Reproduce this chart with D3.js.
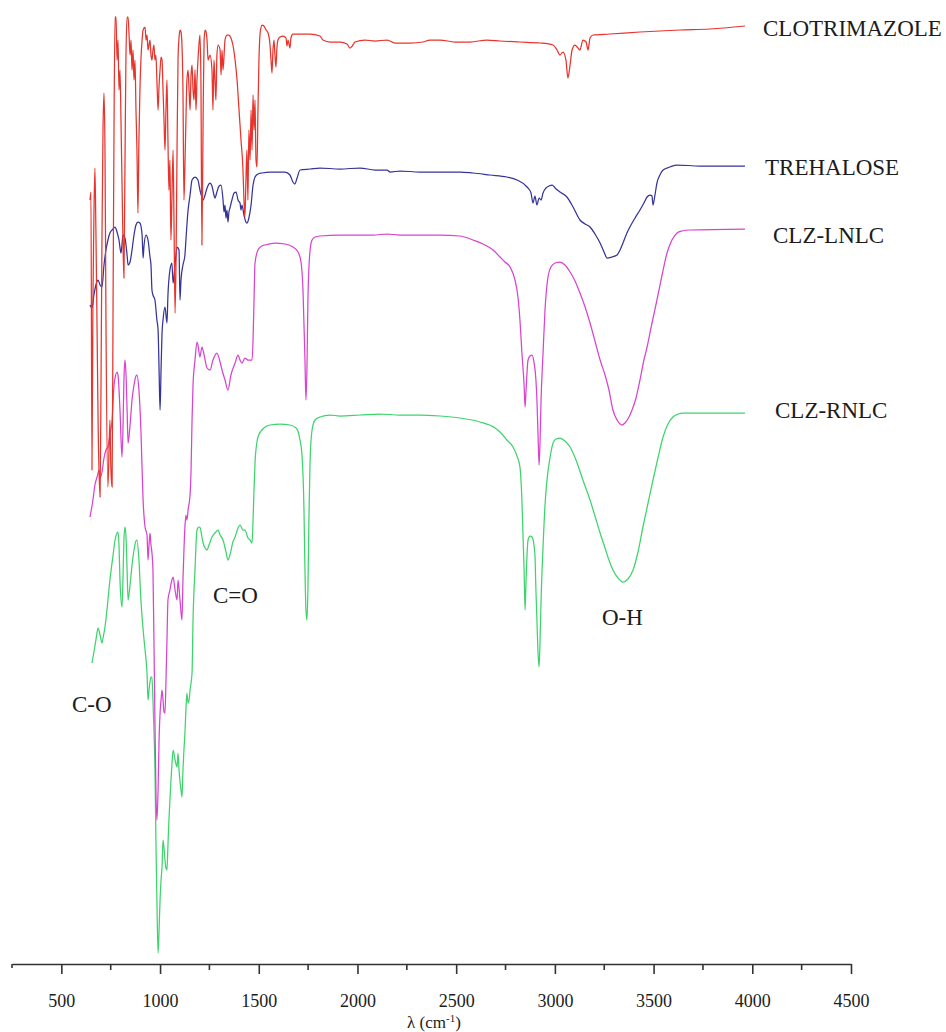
<!DOCTYPE html>
<html>
<head>
<meta charset="utf-8">
<script src="https://cdn.jsdelivr.net/npm/d3@7/dist/d3.min.js"></script>
<style>
  html, body { margin: 0; padding: 0; background: #ffffff; }
  svg { display: block; }
  text { font-family: "Liberation Serif", "Times New Roman", serif; fill: #1c1c1c; }
</style>
</head>
<body>
<svg id="chart" width="946" height="1032"></svg>
<script>
// FTIR spectra, stacked with vertical offsets: [wavenumber (cm-1), transmittance (a.u.)]
const clotrimazole = [
  [645,76.4],[650,77.2],[655,49.4],[660,66.4],[665,74.9],[670,79.6],[675,73.4],[681,63.4],[686,54.4],
  [696,46.7],[701,58.4],[706,73.4],[711,83.4],[716,87.1],[721,81.4],[726,64.4],[736,47.7],[746,54.4],
  [751,49.4],[757,47.7],[762,66.4],[767,84.4],[772,94.7],[777,94.7],[782,90.4],[787,92.4],[792,87.4],
  [797,89.4],[802,84.4],[807,78.4],[812,72.4],[817,68.6],[822,79.4],[827,90.4],[833,94.7],[838,94.7],
  [843,92.9],[848,90.9],[853,92.4],[858,89.4],[863,91.4],[868,88.4],[873,90.4],[878,85.4],[883,81.4],
  [888,75.1],[893,82.4],[898,87.4],[903,90.4],[909,92.4],[914,93.4],[924,93.7],[929,92.4],[934,92.9],
  [939,91.4],[944,91.9],[949,92.4],[954,90.9],[959,90.4],[964,91.4],[969,91.9],[974,90.4],[979,90.9],
  [984,88.4],[990,85.4],[995,87.9],[1000,89.4],[1005,90.7],[1010,90.4],[1015,87.4],[1020,84.4],
  [1025,81.4],[1030,85.4],[1035,88.4],[1040,82.4],[1045,77.4],[1050,80.4],[1055,72.4],[1060,76.4],
  [1066,81.4],[1071,73.4],[1076,65.1],[1081,70.4],[1086,81.4],[1091,90.4],[1096,92.6],[1101,93.4],
  [1106,93.2],[1111,91.9],[1116,87.4],[1121,76.4],[1126,79.9],[1131,84.4],[1136,88.4],[1142,89.4],
  [1147,87.4],[1152,85.4],[1157,88.9],[1162,89.9],[1167,87.4],[1172,86.4],[1177,89.4],[1182,85.4],
  [1187,88.4],[1192,90.4],[1197,91.9],[1202,92.9],[1207,88.4],[1212,71.9],[1218,84.4],[1223,92.4],
  [1228,93.4],[1233,93.2],[1238,92.4],[1243,90.4],[1253,90.9],[1263,89.4],[1268,85.4],[1273,90.4],
  [1278,88.4],[1283,86.4],[1288,90.9],[1294,91.9],[1304,91.4],[1309,88.9],[1314,91.4],[1319,89.4],
  [1329,92.4],[1339,92.9],[1349,92.9],[1359,92.6],[1369,91.9],[1380,90.4],[1390,88.4],[1400,85.4],
  [1410,82.4],[1420,79.4],[1425,76.4],[1430,74.7],[1435,78.4],[1440,81.4],[1445,76.4],[1450,83.4],
  [1456,80.4],[1461,85.4],[1466,81.4],[1471,86.9],[1476,83.4],[1481,86.4],[1486,80.4],[1491,79.7],
  [1496,85.4],[1501,90.4],[1506,92.9],[1511,93.6],[1516,93.9],[1526,93.8],[1537,93.4],[1547,93.1],
  [1557,91.9],[1562,90.4],[1567,89.1],[1572,91.4],[1577,92.4],[1582,90.9],[1587,89.7],[1592,91.6],
  [1597,92.4],[1608,92.7],[1623,92.8],[1638,92.6],[1643,91.8],[1648,92.4],[1658,91.6],[1663,92.6],
  [1673,93.0],[1709,93.0],[1760,93.0],[1810,92.8],[1825,92.4],[1861,92.2],[1911,92.2],[1947,92.0],
  [1962,91.6],[1977,91.9],[1987,92.2],[2038,92.4],[2089,92.3],[2150,92.4],[2190,92.1],[2266,92.1],
  [2332,92.2],[2367,92.4],[2418,92.4],[2494,92.2],[2570,92.2],[2656,92.4],[2722,92.3],[2823,92.2],
  [2925,92.1],[2991,91.9],[3011,91.4],[3026,90.9],[3041,91.2],[3056,90.4],[3066,88.6],[3077,89.9],
  [3087,91.4],[3102,91.9],[3117,91.6],[3127,91.4],[3142,92.4],[3158,92.2],[3168,91.4],[3178,92.6],
  [3193,92.9],[3279,93.0],[3431,93.2],[3634,93.4],[3786,93.5],[3963,93.8]
];

const trehalose = [
  [645,65.9],[655,65.6],[665,66.9],[675,67.9],[686,68.4],[696,67.9],[706,67.7],[716,69.9],[726,71.4],
  [736,72.4],[746,73.1],[757,73.4],[772,73.7],[782,73.2],[792,72.4],[802,71.1],[807,71.9],[812,72.9],
  [822,72.6],[833,70.9],[838,69.9],[848,70.2],[858,71.4],[868,72.9],[878,73.9],[888,74.2],[898,74.1],
  [909,72.9],[914,70.6],[919,71.9],[929,72.9],[939,72.4],[949,70.7],[954,69.9],[959,67.4],[964,66.9],
  [974,66.4],[984,64.4],[990,63.4],[995,59.4],[1000,55.4],[1005,59.4],[1010,63.1],[1015,64.4],
  [1025,65.7],[1035,64.1],[1040,66.9],[1050,69.4],[1060,70.1],[1066,68.1],[1076,69.9],[1086,71.7],
  [1096,71.4],[1101,66.4],[1106,68.4],[1116,69.9],[1126,70.9],[1131,72.4],[1136,73.9],[1142,75.4],
  [1152,76.9],[1162,78.4],[1177,78.7],[1192,78.4],[1202,77.4],[1212,76.7],[1218,76.4],[1228,76.9],
  [1238,77.6],[1253,78.1],[1263,77.8],[1273,76.9],[1278,76.6],[1288,77.2],[1299,77.8],[1309,77.9],
  [1319,76.4],[1324,75.2],[1329,75.9],[1334,74.6],[1339,75.4],[1344,74.2],[1349,75.2],[1354,75.6],
  [1364,76.4],[1375,77.1],[1385,77.2],[1395,76.4],[1405,76.1],[1410,75.4],[1415,75.9],[1425,74.9],
  [1435,74.2],[1440,74.1],[1450,74.6],[1461,75.9],[1471,77.9],[1481,78.7],[1496,79.0],[1516,79.1],
  [1557,79.2],[1633,79.2],[1658,78.9],[1673,78.2],[1683,78.0],[1694,78.6],[1709,79.4],[1760,79.5],
  [1810,79.6],[1911,79.5],[2013,79.6],[2089,79.4],[2150,79.4],[2165,79.2],[2215,79.3],[2317,79.2],
  [2418,79.2],[2519,79.2],[2585,79.1],[2671,78.9],[2757,78.7],[2808,78.4],[2859,77.7],[2879,77.1],
  [2889,76.1],[2899,76.8],[2909,75.9],[2920,76.6],[2930,76.4],[2940,77.1],[2955,77.6],[2970,77.8],
  [2986,77.9],[3001,77.6],[3026,77.2],[3061,76.7],[3092,75.7],[3127,74.4],[3153,74.0],[3178,73.7],
  [3203,73.0],[3229,72.1],[3249,71.2],[3264,70.6],[3289,70.7],[3315,70.9],[3330,71.4],[3345,72.1],
  [3365,73.1],[3380,73.7],[3406,74.6],[3431,75.4],[3451,76.1],[3467,76.7],[3482,76.9],[3492,76.8],
  [3497,75.9],[3507,76.9],[3517,78.1],[3532,78.9],[3548,79.4],[3583,79.7],[3619,79.9],[3735,79.8],
  [3963,79.8]
];

const clzLnlc = [
  [645,44.7],[660,46.4],[670,47.9],[681,48.7],[691,49.4],[696,48.6],[706,49.2],[716,50.6],[726,51.4],
  [736,51.7],[746,52.9],[757,54.4],[767,57.9],[772,58.6],[782,59.2],[787,58.9],[797,55.4],[807,50.7],
  [812,53.4],[817,58.4],[822,60.4],[827,59.2],[833,55.4],[838,52.1],[848,53.9],[858,56.4],[868,57.9],
  [878,58.8],[883,58.9],[893,57.4],[903,53.4],[914,46.4],[924,43.7],[934,42.9],[939,40.4],[944,41.9],
  [949,43.1],[954,41.9],[959,41.1],[964,39.4],[969,32.4],[974,24.4],[979,17.4],[984,14.4],[990,17.4],
  [995,22.4],[1000,25.1],[1005,26.4],[1010,27.4],[1015,26.4],[1020,25.2],[1025,25.1],[1030,28.4],
  [1035,32.4],[1040,36.4],[1050,37.4],[1060,38.4],[1066,38.7],[1076,37.4],[1086,36.4],[1091,38.4],
  [1101,36.4],[1111,34.4],[1116,38.4],[1121,41.4],[1126,43.7],[1131,44.9],[1136,44.4],[1142,45.4],
  [1152,46.9],[1157,49.4],[1162,54.4],[1167,57.9],[1177,60.4],[1187,62.2],[1192,61.9],[1202,60.7],
  [1212,61.7],[1223,60.9],[1238,59.6],[1253,59.4],[1268,60.4],[1288,61.1],[1304,60.2],[1314,59.4],
  [1329,58.4],[1344,57.4],[1359,58.9],[1380,60.1],[1395,60.9],[1405,60.4],[1415,60.1],[1430,60.6],
  [1445,60.4],[1466,60.4],[1471,62.4],[1476,66.4],[1481,70.1],[1496,71.4],[1516,71.8],[1532,71.9],
  [1582,72.1],[1633,72.0],[1673,71.7],[1699,71.2],[1714,70.2],[1724,67.4],[1734,60.4],[1739,56.4],
  [1744,59.4],[1749,66.4],[1760,71.4],[1770,72.4],[1785,72.7],[1810,72.8],[1911,72.9],[2013,72.9],
  [2079,72.9],[2150,73.0],[2215,72.9],[2317,72.9],[2418,72.9],[2519,72.8],[2585,72.4],[2646,71.9],
  [2687,71.4],[2722,70.7],[2747,70.2],[2773,69.7],[2798,68.4],[2813,66.7],[2823,64.4],[2833,61.1],
  [2844,57.9],[2849,55.7],[2854,57.4],[2864,60.4],[2874,60.8],[2884,60.9],[2894,60.2],[2904,58.4],
  [2909,56.4],[2914,53.4],[2920,49.9],[2925,52.4],[2930,56.4],[2940,61.1],[2950,65.4],[2965,68.7],
  [2980,69.7],[3001,70.1],[3026,70.2],[3051,69.9],[3077,69.2],[3102,68.3],[3127,67.1],[3153,65.7],
  [3178,64.1],[3203,62.3],[3229,60.4],[3254,58.9],[3274,57.4],[3294,55.4],[3315,54.4],[3330,54.0],
  [3340,53.9],[3355,54.1],[3370,54.5],[3391,55.4],[3411,56.6],[3431,58.4],[3451,60.4],[3467,61.7],
  [3492,64.1],[3517,66.4],[3543,68.9],[3568,71.1],[3593,72.4],[3619,73.1],[3644,73.3],[3684,73.4],
  [3963,73.5]
];

const clzRnlc = [
  [655,30.1],[665,31.2],[675,32.4],[686,33.6],[696,32.9],[706,32.1],[711,32.6],[721,33.7],[731,35.4],
  [746,38.4],[762,40.9],[772,42.4],[782,43.1],[787,43.2],[792,41.9],[797,38.4],[807,35.7],[812,38.4],
  [817,42.4],[822,43.7],[827,42.9],[833,39.4],[838,36.4],[848,37.9],[858,39.9],[868,41.4],[878,42.3],
  [883,42.4],[893,40.4],[903,36.4],[909,34.7],[919,32.4],[929,30.4],[934,29.1],[939,26.4],[944,27.4],
  [949,28.2],[954,28.7],[959,28.7],[964,26.4],[969,23.4],[974,19.7],[979,12.4],[984,6.4],[990,1.1],
  [995,3.4],[1000,6.4],[1005,8.4],[1010,9.7],[1015,12.4],[1020,11.6],[1025,10.4],[1030,9.6],[1035,9.4],
  [1040,11.9],[1045,14.4],[1050,16.4],[1060,19.9],[1066,21.4],[1076,20.4],[1086,19.7],[1091,21.1],
  [1096,19.4],[1106,17.4],[1111,16.7],[1116,19.4],[1121,21.4],[1126,23.1],[1131,25.4],[1136,27.1],
  [1142,26.1],[1147,26.4],[1152,27.4],[1162,29.1],[1167,34.4],[1172,37.4],[1177,39.4],[1182,41.9],
  [1187,43.4],[1197,43.7],[1202,43.7],[1212,42.7],[1218,42.1],[1228,41.6],[1238,41.4],[1248,41.9],
  [1263,42.7],[1278,43.1],[1294,43.4],[1304,42.9],[1319,42.4],[1334,41.2],[1344,40.4],[1354,40.9],
  [1369,42.2],[1380,42.7],[1395,43.6],[1405,43.9],[1420,43.4],[1430,43.4],[1445,42.6],[1456,42.4],
  [1466,42.1],[1471,44.4],[1476,47.4],[1481,50.1],[1491,52.2],[1496,52.7],[1516,53.4],[1532,53.7],
  [1557,53.9],[1608,54.0],[1658,53.9],[1689,53.6],[1709,52.4],[1719,50.9],[1729,45.4],[1734,39.4],
  [1739,35.4],[1744,34.4],[1749,37.4],[1754,44.4],[1760,50.4],[1770,53.4],[1785,54.4],[1810,54.7],
  [1861,54.9],[1911,54.8],[2013,54.9],[2114,55.0],[2215,54.9],[2317,54.9],[2418,54.8],[2519,54.6],
  [2621,54.2],[2697,53.6],[2722,53.2],[2757,52.4],[2788,51.7],[2808,50.8],[2823,49.7],[2833,46.4],
  [2844,39.4],[2849,35.4],[2854,38.4],[2864,42.4],[2874,42.8],[2884,42.7],[2894,41.9],[2899,40.9],
  [2904,37.4],[2909,34.4],[2914,31.4],[2920,29.7],[2925,32.4],[2930,36.4],[2940,41.7],[2950,45.9],
  [2960,48.4],[2975,50.6],[2991,52.1],[3006,52.5],[3026,52.6],[3051,52.3],[3077,51.7],[3107,50.4],
  [3142,48.4],[3178,46.4],[3203,44.8],[3229,43.1],[3254,41.6],[3274,40.4],[3294,39.4],[3320,38.6],
  [3345,38.2],[3370,38.5],[3396,39.4],[3421,41.2],[3446,43.7],[3472,46.1],[3497,48.4],[3522,50.6],
  [3548,52.7],[3573,54.0],[3598,54.7],[3624,55.0],[3649,55.1],[3735,55.1],[3963,55.1]
];

const seriesNames = ["CLZ-RNLC", "CLZ-LNLC", "TREHALOSE", "CLOTRIMAZOLE"];
const seriesData = [clzRnlc, clzLnlc, trehalose, clotrimazole];
const seriesColors = ["#3dd46c", "#d844cf", "#34349a", "#e8342c"];

const majorTicks = [500, 1000, 1500, 2000, 2500, 3000, 3500, 4000, 4500];
const minorTicks = [750, 1250, 1750, 2250, 2750, 3250, 3750, 4250];
const bandLabels = ["C=O", "C-O", "O-H"];

// ---- drawing ----
const svg = d3.select("#chart");
svg.append("rect").attr("width", 946).attr("height", 1032).attr("fill", "#ffffff");

const x = d3.scaleLinear().domain([250, 4500]).range([12, 851]);
const y = d3.scaleLinear().domain([0, 96]).range([964, 4]);

const line = d3.line()
  .x(d => x(d[0]))
  .y(d => y(d[1]))
  .curve(d3.curveMonotoneX);

svg.append("g")
  .selectAll("path")
  .data(seriesData)
  .join("path")
  .attr("d", line)
  .attr("fill", "none")
  .attr("stroke", (d, i) => seriesColors[i])
  .attr("stroke-width", 1.25)
  .attr("stroke-linejoin", "round");

// x axis with major labelled ticks and short unlabelled minor ticks
const axisG = svg.append("g").attr("transform", "translate(0,964)");
axisG.call(
  d3.axisBottom(x)
    .tickValues(majorTicks)
    .tickFormat(d3.format("d"))
    .tickSize(10)
    .tickSizeOuter(0)
    .tickPadding(20)
);
axisG.select(".domain").attr("stroke", "#333").attr("stroke-width", 1.6);
axisG.selectAll(".tick line").attr("stroke", "#333").attr("stroke-width", 1.6);
axisG.selectAll(".tick text")
  .attr("font-family", "Liberation Serif, Times New Roman, serif")
  .attr("font-size", 18)
  .attr("fill", "#222");

axisG.append("g")
  .selectAll("line")
  .data(minorTicks)
  .join("line")
  .attr("x1", d => x(d)).attr("x2", d => x(d))
  .attr("y1", 0).attr("y2", 6)
  .attr("stroke", "#333").attr("stroke-width", 1.6);

axisG.append("line")
  .attr("x1", x(250)).attr("x2", x(250))
  .attr("y1", 0).attr("y2", 4)
  .attr("stroke", "#333").attr("stroke-width", 1.6);

// axis title
const title = svg.append("text")
  .attr("x", 434).attr("y", 1028)
  .attr("text-anchor", "middle")
  .attr("font-size", 17);
title.append("tspan").text("λ (cm");
title.append("tspan").attr("font-size", 11).attr("dy", -6).text("-1");
title.append("tspan").attr("dy", 6).text(")");

// series names beside the right end of each trace
const nameSpots = {
  "CLOTRIMAZOLE": [763, 36],
  "TREHALOSE": [765, 175],
  "CLZ-LNLC": [773, 243],
  "CLZ-RNLC": [775, 418]
};
svg.append("g")
  .selectAll("text")
  .data(seriesNames)
  .join("text")
  .attr("x", d => nameSpots[d][0])
  .attr("y", d => nameSpots[d][1])
  .attr("font-size", 23)
  .text(d => d);

// functional group annotations
const bandSpots = { "C=O": [213, 603], "C-O": [72, 712], "O-H": [602, 625] };
svg.append("g")
  .selectAll("text")
  .data(bandLabels)
  .join("text")
  .attr("x", d => bandSpots[d][0])
  .attr("y", d => bandSpots[d][1])
  .attr("font-size", 23)
  .text(d => d);
</script>
</body>
</html>
